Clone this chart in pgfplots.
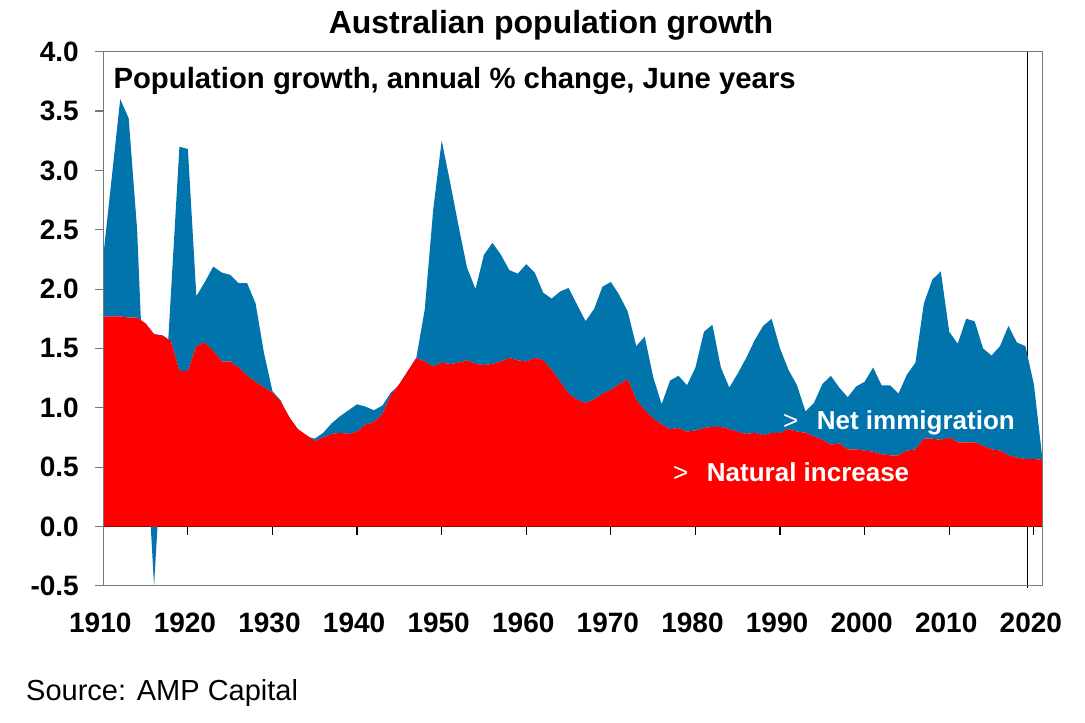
\documentclass[border=0pt]{standalone}
\usepackage{pgfplots}
\pgfplotsset{compat=1.18}
\usepackage{pgfplotstable}
\usepackage{fontspec}
\setmainfont{Liberation Sans}
\definecolor{blueA}{RGB}{1,116,172}
\definecolor{redA}{RGB}{255,0,0}
\definecolor{axgray}{RGB}{120,120,120}

\pgfplotstableread{
year tot nat
1910 2.28 1.77
1911 2.94 1.77
1912 3.60 1.77
1913 3.44 1.76
1914 2.50 1.76
1915 0.78 1.71
1916 -0.50 1.62
1917 0.73 1.61
1918 1.97 1.56
1919 3.20 1.31
1920 3.18 1.31
1921 1.94 1.52
1922 2.06 1.55
1923 2.19 1.48
1924 2.14 1.39
1925 2.12 1.39
1926 2.05 1.34
1927 2.05 1.27
1928 1.88 1.22
1929 1.46 1.17
1930 1.14 1.13
1931 1.06 1.05
1932 0.90 0.92
1933 0.80 0.82
1934 0.76 0.77
1935 0.74 0.72
1936 0.79 0.75
1937 0.87 0.78
1938 0.93 0.79
1939 0.98 0.78
1940 1.03 0.80
1941 1.01 0.86
1942 0.98 0.88
1943 1.02 0.95
1944 1.13 1.11
1945 1.19 1.20
1946 1.21 1.31
1947 1.42 1.42
1948 1.83 1.39
1949 2.67 1.35
1950 3.25 1.38
1951 2.90 1.37
1952 2.53 1.38
1953 2.18 1.40
1954 2.00 1.37
1955 2.29 1.36
1956 2.39 1.37
1957 2.29 1.39
1958 2.16 1.42
1959 2.13 1.40
1960 2.21 1.39
1961 2.14 1.42
1962 1.97 1.40
1963 1.92 1.32
1964 1.98 1.22
1965 2.01 1.12
1966 1.87 1.07
1967 1.73 1.04
1968 1.83 1.07
1969 2.02 1.12
1970 2.06 1.15
1971 1.95 1.20
1972 1.81 1.24
1973 1.52 1.07
1974 1.60 0.98
1975 1.26 0.91
1976 1.03 0.86
1977 1.23 0.82
1978 1.27 0.83
1979 1.19 0.80
1980 1.34 0.81
1981 1.64 0.83
1982 1.70 0.84
1983 1.34 0.84
1984 1.17 0.82
1985 1.29 0.80
1986 1.42 0.78
1987 1.57 0.79
1988 1.69 0.77
1989 1.75 0.79
1990 1.50 0.79
1991 1.32 0.82
1992 1.19 0.80
1993 0.97 0.79
1994 1.04 0.76
1995 1.20 0.73
1996 1.27 0.69
1997 1.17 0.70
1998 1.09 0.65
1999 1.18 0.65
2000 1.22 0.64
2001 1.34 0.63
2002 1.19 0.61
2003 1.19 0.60
2004 1.12 0.60
2005 1.28 0.64
2006 1.38 0.65
2007 1.88 0.74
2008 2.08 0.74
2009 2.15 0.73
2010 1.64 0.75
2011 1.54 0.71
2012 1.75 0.71
2013 1.73 0.71
2014 1.50 0.68
2015 1.44 0.65
2016 1.52 0.64
2017 1.69 0.60
2018 1.55 0.58
2019 1.52 0.57
2020 1.20 0.57
2021 0.58 0.56
}\popdata

\begin{document}
\begin{tikzpicture}
\path[use as bounding box] (0bp,0bp) rectangle (1085bp,723bp);
\begin{axis}[
  at={(103.3bp,137.1bp)}, anchor=south west,
  width=939bp, height=534.2bp, scale only axis,
  xmin=1910, xmax=2021, ymin=-0.5, ymax=4,
  stack plots=y,
  axis line style={axgray, line width=1.2bp},
  axis on top,
  tick align=outside,
  major tick length=8bp,
  xtick={1910,1920,...,2020},
  ytick={-0.5,0,0.5,1,1.5,2,2.5,3,3.5,4},
  xtick style={draw=none},
  ytick style={axgray, line width=1.2bp},
  ytick pos=left,
  xtick pos=bottom,
  tick label style={font=\fontsize{28bp}{30bp}\selectfont\bfseries},
  yticklabel style={/pgf/number format/fixed, /pgf/number format/fixed zerofill, /pgf/number format/precision=1, /pgf/number format/assume math mode=true, xshift=-13bp},
  xticklabel style={/pgf/number format/1000 sep={}, /pgf/number format/assume math mode=true, anchor=base, yshift=-39bp, xshift=-3bp},
  clip=false,
]
\addplot[draw=none, fill=redA] table[x=year, y=nat] {\popdata} \closedcycle;
\addplot[draw=none, fill=blueA] table[x=year, y expr=\thisrow{tot}-\thisrow{nat}] {\popdata} \closedcycle;
\draw[black, line width=1.5bp] (axis cs:1910,0) -- (axis cs:2021,0);
\pgfplotsinvokeforeach{1920,1930,1940,1950,1960,1970,1980,1990,2000,2010,2020}{\draw[black, line width=1.2bp] (axis cs:#1,0) -- ++(0bp,-8bp);}
\draw[black, line width=1bp] (axis cs:2019.2,-0.52) -- (axis cs:2019.2,4);
\end{axis}
\node[anchor=base, inner sep=0, font=\fontsize{32bp}{36bp}\selectfont\bfseries] at (551bp,689.7bp) {Australian population growth};
\node[anchor=base west, inner sep=0, font=\fontsize{29.3bp}{32bp}\selectfont\bfseries] at (113.3bp,634.7bp) {Population growth, annual \% change, June years};
\node[anchor=base west, inner sep=0, text=white, font=\fontsize{26bp}{30bp}\selectfont] at (783bp,293bp) {>};
\node[anchor=base west, inner sep=0, text=white, font=\fontsize{26bp}{30bp}\selectfont\bfseries] at (816.7bp,293bp) {Net immigration};
\node[anchor=base west, inner sep=0, text=white, font=\fontsize{26bp}{30bp}\selectfont] at (673bp,241.3bp) {>};
\node[anchor=base west, inner sep=0, text=white, font=\fontsize{26bp}{30bp}\selectfont\bfseries] at (706.7bp,241.3bp) {Natural increase};
\node[anchor=base west, inner sep=0, font=\fontsize{29bp}{32bp}\selectfont] at (26bp,22.3bp) {Source: AMP Capital};
\end{tikzpicture}
\end{document}
